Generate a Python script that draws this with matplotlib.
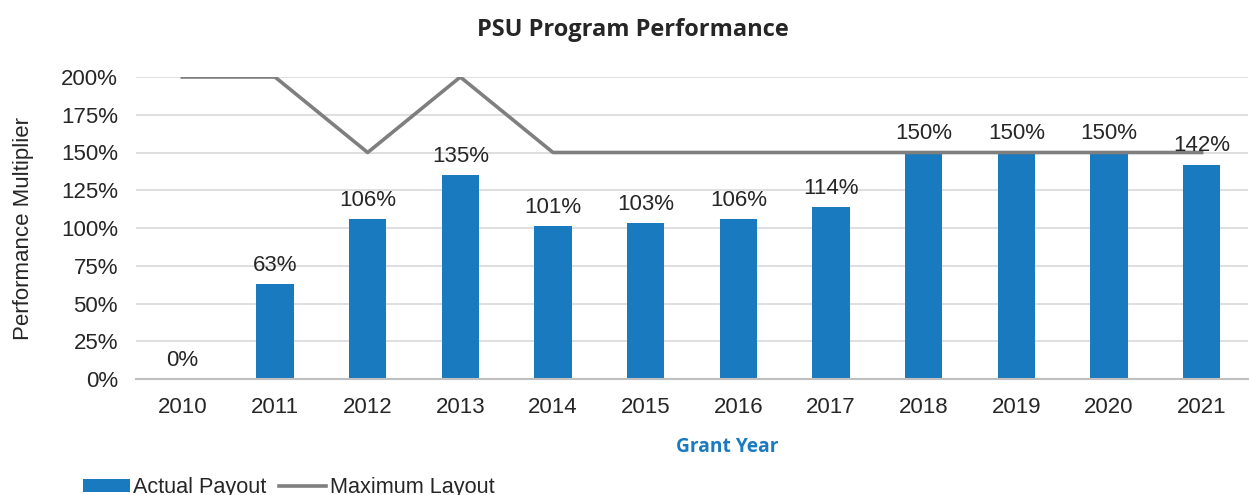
import matplotlib
matplotlib.use("Agg")
import matplotlib.pyplot as plt
import numpy as np
from matplotlib.patches import Patch
from matplotlib.lines import Line2D

years = ["2010", "2011", "2012", "2013", "2014", "2015", "2016", "2017", "2018", "2019", "2020", "2021"]
actual_payout = [0, 63, 106, 135, 101, 103, 106, 114, 150, 150, 150, 142]
maximum_layout = [200, 200, 150, 200, 150, 150, 150, 150, 150, 150, 150, 150]
yticks = [0, 25, 50, 75, 100, 125, 150, 175, 200]

bar_color = "#1a7abf"
line_color = "#7f7f7f"
text_color = "#262626"

plt.rcParams['font.family'] = ['Liberation Sans', 'DejaVu Sans']

fig = plt.figure(figsize=(12.49, 4.95), dpi=100)
ax = fig.add_axes([136/1249, 1-379/495, (1248-136)/1249, (379-77)/495])

x = np.arange(len(years))
bars = ax.bar(x, actual_payout, width=0.4, color=bar_color, zorder=3)
ax.plot(x, maximum_layout, color=line_color, lw=2.6, zorder=4)

labels = [f"{v}%" for v in actual_payout]
ax.bar_label(bars, labels=labels, padding=6, fontsize=16, color=text_color, zorder=5)

ax.set_xlim(-0.5, len(years) - 0.5)
ax.set_ylim(0, 200)
ax.set_yticks(yticks)
ax.set_yticklabels([f"{t}%" for t in yticks])
ax.set_xticks(x)
ax.set_xticklabels(years)
ax.tick_params(axis='both', length=0, labelsize=16, labelcolor=text_color)
ax.tick_params(axis='x', pad=13)
ax.tick_params(axis='y', pad=13)
ax.yaxis.grid(True, color="#d9d9d9", lw=1.2, zorder=0)
ax.set_axisbelow(True)
for s in ["top", "right", "left"]:
    ax.spines[s].set_visible(False)
ax.spines["bottom"].set_color("#bfbfbf")
ax.spines["bottom"].set_linewidth(1.5)
ax.spines["bottom"].set_zorder(6)

ax.set_ylabel("Performance Multiplier", fontsize=16, color=text_color)
ax.yaxis.set_label_coords(-0.092, 0.5)

fig.text(633/1249, 1-30/495, "PSU Program Performance", ha="center", va="center",
         fontsize=17, fontweight="bold", family=["Open Sans", "DejaVu Sans"], color=text_color)
fig.text(727/1249, 1-447/495, "Grant Year", ha="center", va="center",
         fontsize=13.8, fontweight="bold", family=["Open Sans", "DejaVu Sans"], color=bar_color)

handles = [Patch(facecolor=bar_color, edgecolor="none"),
           Line2D([0], [0], color=line_color, lw=2.6)]
leg = fig.legend(handles, ["Actual Payout", "Maximum Layout"], loc="lower left",
                 bbox_to_anchor=(63/1249, -0.046), ncol=2, frameon=False, fontsize=15.6,
                 handlelength=2.2, handleheight=0.5, handletextpad=0.15, columnspacing=0.55,
                 labelcolor=text_color)

fig.savefig("out.png", dpi=100)
